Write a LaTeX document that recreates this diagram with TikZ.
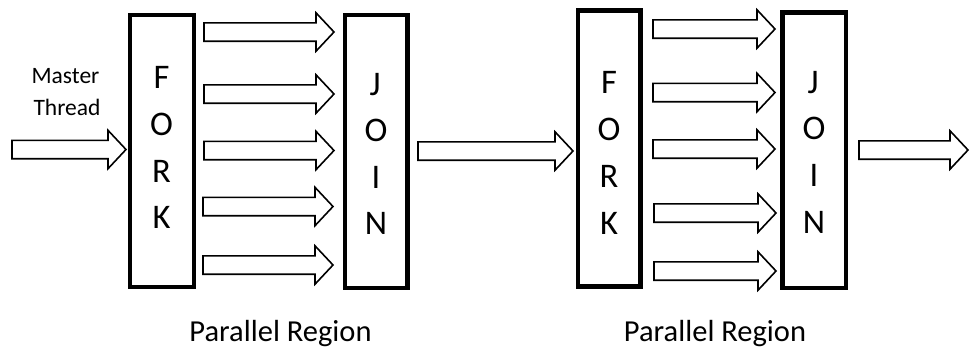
\documentclass[tikz,border=0pt]{standalone}
\usepackage{fontspec}
\setmainfont{Carlito}
\begin{document}
\begin{tikzpicture}[x=1pt,y=-1pt,
  stage/.style={draw=black,line width=4.5pt,fill=white,inner sep=0pt},
  letter/.style={anchor=base,inner sep=0pt,font=\fontsize{34.5}{40}\selectfont},
  caption/.style={anchor=base,inner sep=0pt,font=\fontsize{30.5}{34}\selectfont},
  small/.style={anchor=base,inner sep=0pt,font=\fontsize{23.5}{28}\selectfont},
  blockarrow/.style={draw=black,line width=1.6pt,fill=white,line join=miter}]
\useasboundingbox (0,0) rectangle (972,360);
\fill[white] (0,0) rectangle (972,360);

% block arrow: tail x, tip x, centre y
\newcommand\bigarrow[3]{%
  \draw[blockarrow] (#1,#3-9.2) -- (#2-18,#3-9.2) -- (#2-18,#3-19.2) -- (#2,#3)
    -- (#2-18,#3+19.2) -- (#2-18,#3+9.2) -- (#1,#3+9.2) -- cycle;}

% fork and join bars
\node[stage,minimum width=64pt,minimum height=272pt] (fork1) at (161.75,151) {};
\node[stage,minimum width=62.5pt,minimum height=272.7pt] (join1) at (376,151.4) {};
\node[stage,minimum width=62.5pt,minimum height=275.8pt] (fork2) at (609,148.4) {};
\node[stage,minimum width=63.5pt,minimum height=275.5pt] (join2) at (814,150) {};

% vertical lettering
\node[letter] (f1a) at (161.5,88) {F};
\node[letter] (f1b) at (161.5,135) {O};
\node[letter] (f1c) at (161.5,182) {R};
\node[letter] (f1d) at (161.5,228.5) {K};
\node[letter] (j1a) at (375,95) {J};
\node[letter] (j1b) at (376,141.5) {O};
\node[letter] (j1c) at (376,188) {I};
\node[letter] (j1d) at (376,234.5) {N};
\node[letter] (f2a) at (609,93) {F};
\node[letter] (f2b) at (609,140) {O};
\node[letter] (f2c) at (609,187) {R};
\node[letter] (f2d) at (609,234) {K};
\node[letter] (j2a) at (813,93) {J};
\node[letter] (j2b) at (814,139.5) {O};
\node[letter] (j2c) at (814,186) {I};
\node[letter] (j2d) at (814,233) {N};

% master thread input
\node[small] (master) at (65.5,83.3) {Master};
\node[small] (thread) at (67,115) {Thread};
\bigarrow{12}{126}{149.5}

% first parallel region
\bigarrow{204}{334}{32}
\bigarrow{204}{334}{94}
\bigarrow{204}{334}{150.5}
\bigarrow{203}{333}{206.5}
\bigarrow{203}{333}{265}

% between regions
\bigarrow{418}{573}{151}

% second parallel region
\bigarrow{653}{775}{29}
\bigarrow{653}{775}{92.5}
\bigarrow{653}{775}{149}
\bigarrow{654}{776}{213}
\bigarrow{654}{776}{271}

% output
\bigarrow{859}{968}{150}

% captions
\node[caption] (cap1) at (280.5,341) {Parallel Region};
\node[caption] (cap2) at (715,341) {Parallel Region};
\end{tikzpicture}
\end{document}
